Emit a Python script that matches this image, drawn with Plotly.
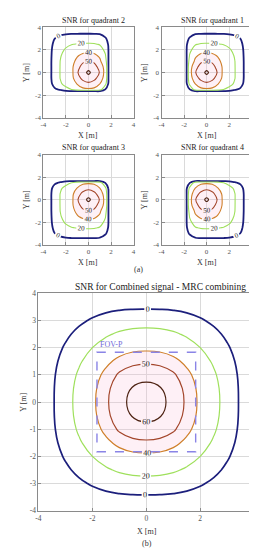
import plotly.graph_objects as go

W, H = 257, 550
SERIF = "Liberation Serif, Times New Roman, serif"

# ---------------- data ----------------
levels = [0, 20, 40, 50, 60]
level_colors = ['#1c1f7c', '#9fe05c', '#cf7f2a', '#a3452a', '#4d2212']

axis_ticks4 = [-4, -2, 0, 2, 4]
axis_ticks4_text = ['-4', '-2', '0', '2', '4']
axis_ticks1 = [-4, -3, -2, -1, 0, 1, 2, 3, 4]
axis_ticks1_text = ['-4', '-3', '-2', '-1', '0', '1', '2', '3', '4']

# SNR [dB] for quadrant 2 (rows = q_y, columns = q_x)
q_x = [-4, -3.5, -3, -2.5, -2, -1.5, -1, -0.5, 0, 0.5, 1, 1.5, 1.75, 2]
q_y = [-2, -1.75, -1.5, -1, -0.5, 0, 0.5, 1, 1.5, 2, 2.5, 3, 3.5, 4]
snr_q2 = [
    [-40, -40, -40, -40, -40, -40, -40, -40, -40, -40, -40, -40, -40, -40],
    [-25, -13, -8, -8, -14, -15, -21, -25.5, -27, -25.5, -21, -25, -35, -40],
    [-22, -9, -2.3, 1.8, 15, 20, 31.6, 37.7, 38.5, 37.7, 31, -1, -20, -35],
    [-21, -6.9, 5.8, 17.5, 25.6, 32.5, 40.7, 45.9, 48, 45.9, 40.5, 26, 0.5, -30],
    [-20, -5.7, 7.8, 20.5, 28.8, 37.0, 46.0, 52.6, 56, 52.7, 46.1, 35, 3, -30],
    [-20, -5.7, 7.9, 20.7, 29.3, 37, 49, 56, 62, 56, 49.5, 36, 3, -30],
    [-20, -5.7, 7.9, 20.6, 29.1, 37.5, 46.7, 53.2, 56, 53.3, 46.9, 35.5, 3, -30],
    [-20, -5.7, 7.8, 20.3, 28.3, 35.9, 43.1, 48.3, 50, 48.4, 43, 28, 3, -30],
    [-20, -6, 7.3, 18.6, 26.2, 32.6, 38.7, 43.0, 44.3, 43, 37.5, 21.4, 3, -30],
    [-20, -6.2, 6.1, 15.5, 22.2, 27.1, 31.2, 34.7, 36.3, 34.5, 28.7, 15.5, 2.5, -30],
    [-21, -7.3, 3.9, 11.1, 16.1, 19.2, 21.0, 21.8, 22, 21.6, 18.7, 9.0, -0.5, -30],
    [-24, -10.3, -0.2, 4.9, 7.8, 9.2, 9.8, 10.0, 10, 9.9, 8.6, 2.0, -4, -30],
    [-28, -15.6, -8.4, -4.2, -2.5, -1.9, -1.8, -1.8, -1.8, -1.9, -2.5, -7.9, -12, -35],
    [-35, -26, -20, -17, -16, -15.5, -15, -15, -15, -15, -16, -20, -24, -40],
]

# SNR [dB] for the combined (MRC) signal, 0.5 m grid
c_x = [-4, -3.5, -3, -2.5, -2, -1.5, -1, -0.5, 0, 0.5, 1, 1.5, 2, 2.5, 3, 3.5, 4]
c_y = [-4, -3.5, -3, -2.5, -2, -1.5, -1, -0.5, 0, 0.5, 1, 1.5, 2, 2.5, 3, 3.5, 4]
snr_mrc = [
    [-32, -28, -25, -22, -19, -16.8, -16.4, -15.3, -15, -15.3, -16.4, -16.8, -19, -22, -25, -28, -32],
    [-28, -25, -18.2, -12.5, -8.2, -5.2, -3.4, -2.6, -2.5, -2.6, -3.4, -5.2, -8.2, -12.5, -18.2, -25, -28],
    [-25, -18.2, -10.3, -3.6, 2.1, 6.6, 10.0, 12.0, 12.7, 12.0, 10.0, 6.6, 2.1, -3.6, -10.3, -18.2, -25],
    [-22, -12.5, -3.6, 4.6, 11.6, 17.6, 22.5, 25.3, 26.1, 25.3, 22.5, 17.6, 11.6, 4.6, -3.6, -12.5, -22],
    [-19, -8.2, 2.1, 11.6, 20, 27.6, 33.3, 36.5, 37.3, 36.5, 33.3, 27.6, 20, 11.6, 2.1, -8.2, -19],
    [-16.8, -5.2, 6.6, 17.6, 27.6, 36.6, 43.7, 47.4, 48.3, 47.4, 43.7, 36.6, 27.6, 17.6, 6.6, -5.2, -16.8],
    [-16.4, -3.4, 10.0, 22.5, 33.3, 43.7, 51.6, 55.3, 56.6, 55.3, 51.6, 43.7, 33.3, 22.5, 10.0, -3.4, -16.4],
    [-15.3, -2.6, 12.0, 25.3, 36.5, 47.4, 55.3, 60.7, 62.9, 60.7, 55.3, 47.4, 36.5, 25.3, 12.0, -2.6, -15.3],
    [-15, -2.5, 12.7, 26.1, 37.3, 48.3, 56.6, 62.9, 68, 62.9, 56.6, 48.3, 37.3, 26.1, 12.7, -2.5, -15],
    [-15.3, -2.6, 12.0, 25.3, 36.5, 47.4, 55.3, 60.7, 62.9, 60.7, 55.3, 47.4, 36.5, 25.3, 12.0, -2.6, -15.3],
    [-16.4, -3.4, 10.0, 22.5, 33.3, 43.7, 51.6, 55.3, 56.6, 55.3, 51.6, 43.7, 33.3, 22.5, 10.0, -3.4, -16.4],
    [-16.8, -5.2, 6.6, 17.6, 27.6, 36.6, 43.7, 47.4, 48.3, 47.4, 43.7, 36.6, 27.6, 17.6, 6.6, -5.2, -16.8],
    [-19, -8.2, 2.1, 11.6, 20, 27.6, 33.3, 36.5, 37.3, 36.5, 33.3, 27.6, 20, 11.6, 2.1, -8.2, -19],
    [-22, -12.5, -3.6, 4.6, 11.6, 17.6, 22.5, 25.3, 26.1, 25.3, 22.5, 17.6, 11.6, 4.6, -3.6, -12.5, -22],
    [-25, -18.2, -10.3, -3.6, 2.1, 6.6, 10.0, 12.0, 12.7, 12.0, 10.0, 6.6, 2.1, -3.6, -10.3, -18.2, -25],
    [-28, -25, -18.2, -12.5, -8.2, -5.2, -3.4, -2.6, -2.5, -2.6, -3.4, -5.2, -8.2, -12.5, -18.2, -25, -28],
    [-32, -28, -25, -22, -19, -16.8, -16.4, -15.3, -15, -15.3, -16.4, -16.8, -19, -22, -25, -28, -32],
]

fov_half = 1.83  # FOV-P square half width [m]

# the four quadrant maps are mirror images of each other
def mirror_x(xs, z):
    return [-v for v in xs[::-1]], [row[::-1] for row in z]

def mirror_y(ys, z):
    return [-v for v in ys[::-1]], z[::-1]

q1_x, snr_q1 = mirror_x(q_x, snr_q2)
q3_y, snr_q3 = mirror_y(q_y, snr_q2)
q4_x, snr_q4_tmp = mirror_x(q_x, snr_q2)
q4_y, snr_q4 = mirror_y(q_y, snr_q4_tmp)

# ---------------- layout geometry (pixels) ----------------
panels = [
    dict(x=q_x, y=q_y, z=snr_q2, box=(33, 125, 15.5, 107.5), title='SNR for quadrant 2', big=False),
    dict(x=q1_x, y=q_y, z=snr_q1, box=(153.5, 245.5, 15.5, 107.5), title='SNR for quadrant 1', big=False),
    dict(x=q_x, y=q3_y, z=snr_q3, box=(33, 125, 145, 236.5), title='SNR for quadrant 3', big=False),
    dict(x=q4_x, y=q4_y, z=snr_q4, box=(153.5, 245.5, 145, 236.5), title='SNR for quadrant 4', big=False),
    dict(x=c_x, y=c_y, z=snr_mrc, box=(28, 248, 286, 507), title='SNR for Combined signal - MRC combining', big=True),
]

def fx(p):
    return p / W

def fy(p):
    return 1 - p / H

def label(text, xp, yp, size=8, color='#333', angle=0):
    return dict(text=text, x=fx(xp), y=fy(yp), xref='paper', yref='paper',
                showarrow=False, textangle=angle, xanchor='center', yanchor='middle',
                font=dict(size=size, color=color, family=SERIF))

fig = go.Figure()
layout = dict(width=W, height=H, margin=dict(l=0, r=0, t=0, b=0),
              paper_bgcolor='white', plot_bgcolor='white', showlegend=False,
              font=dict(family=SERIF, color='#333'))
annotations = []
shapes = []

pink = 'rgba(250,185,212,0.22)'
pink_scale = [[0, 'rgba(0,0,0,0)'], [0.49, 'rgba(0,0,0,0)'], [0.49, pink], [1, pink]]

for i, p in enumerate(panels):
    k = '' if i == 0 else str(i + 1)
    xa, ya = 'x' + k, 'y' + k
    l, r, t, b = p['box']
    big = p['big']
    lab_size = 8 if big else 7
    smooth = 1.3 if big else 1.0

    # light pink shading inside the 40 dB contour
    fig.add_trace(go.Contour(
        x=p['x'], y=p['y'], z=p['z'], xaxis=xa, yaxis=ya,
        contours=dict(start=40, end=40, size=10, coloring='fill', showlines=False),
        colorscale=pink_scale, zmin=0, zmax=80, zauto=False,
        showscale=False, hoverinfo='skip', line=dict(width=0, smoothing=smooth)))

    for lev, col in zip(levels, level_colors):
        wdt = 1.8 if lev == 0 else 1.1
        if big:
            wdt = 1.7 if lev == 0 else 1.2
        fig.add_trace(go.Contour(
            x=p['x'], y=p['y'], z=p['z'], xaxis=xa, yaxis=ya,
            contours=dict(start=lev, end=lev, size=1, coloring='none',
                          showlabels=True,
                          labelfont=dict(size=lab_size, color='#222', family=SERIF)),
            line=dict(color=col, width=wdt, smoothing=smooth),
            showscale=False, hoverinfo='skip'))

    axcommon = dict(range=[-4, 4], showgrid=True, gridcolor='#dadada', gridwidth=1,
                    zeroline=False, showline=True, linecolor='#8a8a8a', linewidth=1,
                    mirror=True, ticks='inside', ticklen=3, tickcolor='#8a8a8a',
                    tickfont=dict(size=7.5 if big else 7, color='#555', family=SERIF))
    layout['xaxis' + k] = dict(axcommon, domain=[fx(l), fx(r)], anchor=ya,
                               tickvals=axis_ticks4, ticktext=axis_ticks4_text)
    if big:
        layout['yaxis' + k] = dict(axcommon, domain=[fy(b), fy(t)], anchor=xa,
                                   tickvals=axis_ticks1, ticktext=axis_ticks1_text)
    else:
        layout['yaxis' + k] = dict(axcommon, domain=[fy(b), fy(t)], anchor=xa,
                                   tickvals=axis_ticks4, ticktext=axis_ticks4_text)

    cx = (l + r) / 2
    cy = (t + b) / 2
    if big:
        annotations.append(label(p['title'], 152, 279.5, size=9.5, color='#222'))
        annotations.append(label('X [m]', 139, 528))
        annotations.append(label('Y [m]', 12, cy, angle=-90))
    else:
        annotations.append(label(p['title'], cx + 5.5, t - 7, size=8, color='#222'))
        annotations.append(label('X [m]', cx, b + 18.5))
        annotations.append(label('Y [m]', l - 17, cy, angle=-90))

# FOV-P square on the combined map
shapes.append(dict(type='rect', xref='x5', yref='y5', x0=-fov_half, x1=fov_half,
                   y0=-fov_half, y1=fov_half,
                   line=dict(color='#8a84e6', width=1.4, dash='dash'), layer='above'))
annotations.append(dict(text='FOV-P', x=-fov_half + 0.05, y=fov_half + 0.05, xref='x5', yref='y5',
                        xanchor='left', yanchor='bottom', showarrow=False,
                        font=dict(size=8, color='#6f6ad8', family=SERIF)))

annotations.append(label('(a)', 130, 262))
annotations.append(label('(b)', 139, 540))

layout['annotations'] = annotations
layout['shapes'] = shapes
fig.update_layout(**layout)
fig.write_html("out.html")
